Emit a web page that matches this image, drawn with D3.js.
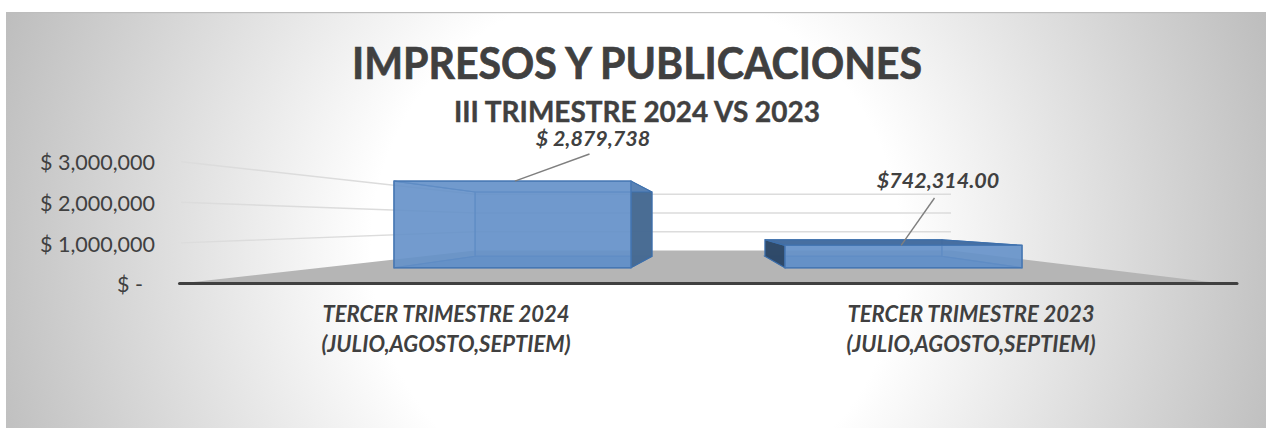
<!DOCTYPE html>
<html><head><meta charset="utf-8">
<script src="https://cdn.jsdelivr.net/npm/d3@7"></script>
<style>html,body{margin:0;padding:0;background:#fff}svg{display:block}text{font-family:Lato,Carlito,sans-serif;fill:#404040}</style>
</head><body><svg id="c" width="1266" height="428"></svg>
<script>
const title = "IMPRESOS Y PUBLICACIONES";
const subtitle = "III TRIMESTRE 2024 VS 2023";
const categories = ["2024", "2023"];
const categoryLines = [["TERCER TRIMESTRE 2024", "(JULIO,AGOSTO,SEPTIEM)"], ["TERCER TRIMESTRE 2023", "(JULIO,AGOSTO,SEPTIEM)"]];
const values = [2879738, 742314];
const valueLabels = ["$ 2,879,738", "$742,314.00"];
const ticks = [0, 1000000, 2000000, 3000000];

const svg = d3.select("#c");
const defs = svg.append("defs");
const grad = defs.append("radialGradient").attr("id","bg").attr("gradientUnits","userSpaceOnUse")
  .attr("cx",636).attr("cy",250).attr("r",680);
grad.append("stop").attr("offset",0.39).attr("stop-color","#ffffff");
grad.append("stop").attr("offset",1).attr("stop-color","#bcbcbc");
svg.append("rect").attr("x",6).attr("y",12).attr("width",1260).attr("height",416).attr("fill","url(#bg)");
svg.append("rect").attr("x",6).attr("y",12).attr("width",1260).attr("height",1.2).attr("fill","#bdbdbd");

// Scales for each plane of the 3D view
const dom = [0, 3000000];
const yLeft = d3.scaleLinear().domain(dom).range([283.5, 161.7]);
const yWall = d3.scaleLinear().domain(dom).range([250.5, 194.3]);
const yFront = d3.scaleLinear().domain(dom).range([267.7, 177.5]);
const yBack = d3.scaleLinear().domain(dom).range([256.3, 189.3]);
const xFront = d3.scaleBand().domain(categories).range([317, 1099]).paddingInner(0.394).paddingOuter(0.197);
const xBack = d3.scaleBand().domain(categories).range([418.5, 998.5]).paddingInner(0.39).paddingOuter(0.195);
const xLabel = d3.scaleBand().domain(categories).range([183.5, 1233.5]);
const wallL = 475, wallR = 951, axisL = 180, axisR = 1237, floorR = 1222;

// Floor
svg.append("path").attr("fill","#b5b5b5")
  .attr("d", d3.line()([[axisL,yLeft(0)],[wallL,yWall(0)],[wallR,yWall(0)],[floorR,yLeft(0)]])+"Z");

// Gridlines
svg.append("g").selectAll("path").data(ticks.slice(1)).join("path")
  .attr("fill","none").attr("stroke","#dcdcdc").attr("stroke-width",1.4)
  .attr("d", t => d3.line()([[axisL+1,yLeft(t)],[wallL,yWall(t)],[wallR,yWall(t)]]));

// Bars
const poly = pts => d3.line()(pts)+"Z";
const bars = svg.append("g").selectAll("g").data(categories.map((c,i)=>({c,v:values[i]}))).join("g");
bars.each(function(d){
  const g = d3.select(this);
  const fx0 = xFront(d.c), fx1 = fx0 + xFront.bandwidth();
  const bx0 = xBack(d.c), bx1 = bx0 + xBack.bandwidth();
  const ft = yFront(d.v), fb = yFront(0), bt = yBack(d.v), bb = yBack(0);
  const F = {tl:[fx0,ft],tr:[fx1,ft],bl:[fx0,fb],br:[fx1,fb]};
  const B = {tl:[bx0,bt],tr:[bx1,bt],bl:[bx0,bb],br:[bx1,bb]};
  const stroke = "#3c6fac";
  const face = (pts,fill,op) => g.append("path").attr("d",poly(pts)).attr("fill",fill).attr("fill-opacity",op)
     .attr("stroke",stroke).attr("stroke-width",1.1).attr("stroke-opacity",0.9);
  const rightDark = bx1 > fx1, leftDark = bx0 < fx0;
  face([B.tl,B.tr,B.br,B.bl],"#5a89c4",0.6);
  face([F.bl,F.br,B.br,B.bl],"#5684bd",0.9);
  face([F.tl,B.tl,B.bl,F.bl], leftDark?"#2c4766":"#5a89c4", leftDark?0.97:0.5);
  face([F.tr,B.tr,B.br,F.br], rightDark?"#476a92":"#5a89c4", rightDark?0.97:0.5);
  face([F.tl,F.tr,B.tr,B.tl], leftDark?"#446c9f":"#628fc9", leftDark?0.97:0.6);
  face([F.tl,F.tr,F.br,F.bl],"#6692c9",0.82).attr("stroke","#4677b3").attr("stroke-width",1.4).attr("stroke-opacity",1);
});

// Baseline
svg.append("line").attr("x1",xLabel.range()[0]-4).attr("x2",axisR).attr("y1",yLeft(0)).attr("y2",yLeft(0))
  .attr("stroke","#404040").attr("stroke-width",3).attr("stroke-linecap","round");

// Value axis
const fmt = d => d === 0 ? "$ -" : "$ " + d3.format(",")(d);
const ax = svg.append("g").attr("transform","translate(155,0)")
  .call(d3.axisLeft(yLeft).tickValues(ticks).tickFormat(fmt).tickSize(0).tickPadding(0));
ax.select(".domain").remove();
ax.selectAll("text").attr("font-size",21.5).attr("fill","#404040").style("font-family","Lato")
  .attr("dx", d => d === 0 ? -12 : 0).attr("dy","0.38em");

// Category labels
const cl = svg.append("g").selectAll("text").data(categories).join("text")
  .attr("text-anchor","middle").attr("font-size",22).attr("font-weight",700).attr("font-style","italic");
cl.selectAll("tspan").data((d,i)=>categoryLines[i]).join("tspan")
  .attr("x",function(){return xLabel(d3.select(this.parentNode).datum())+xLabel.bandwidth()/2;})
  .attr("y",(d,i)=>322+i*29.5).text(d=>d);

// Leader lines + data labels
const leaderFrac = [0.51, 0.49];
const leaderEnd = [[589.5,154],[934.5,198]];
svg.append("g").selectAll("line").data(categories).join("line")
  .attr("x1",(c,i)=>xFront(c)+xFront.bandwidth()*leaderFrac[i])
  .attr("y1",(c,i)=>yFront(values[i]))
  .attr("x2",(c,i)=>leaderEnd[i][0]).attr("y2",(c,i)=>leaderEnd[i][1])
  .attr("stroke","#7f7f7f").attr("stroke-width",1.4);
const labelPos = [[593,146],[938,188]];
svg.append("g").selectAll("text").data(valueLabels).join("text")
  .attr("x",(d,i)=>labelPos[i][0]).attr("y",(d,i)=>labelPos[i][1])
  .attr("text-anchor","middle").attr("font-size",21.5).attr("font-weight",700).attr("font-style","italic").text(d=>d);

// Titles
svg.append("text").attr("x",637).attr("y",79).attr("text-anchor","middle").attr("font-size",44).attr("font-weight",700)
  .attr("stroke","#404040").attr("stroke-width",0.7)
  .attr("textLength",570).attr("lengthAdjust","spacingAndGlyphs").text(title);
svg.append("text").attr("x",637).attr("y",122).attr("text-anchor","middle").attr("font-size",29).attr("font-weight",700)
  .attr("stroke","#404040").attr("stroke-width",0.4)
  .attr("textLength",366).attr("lengthAdjust","spacingAndGlyphs").text(subtitle);
</script></body></html>
